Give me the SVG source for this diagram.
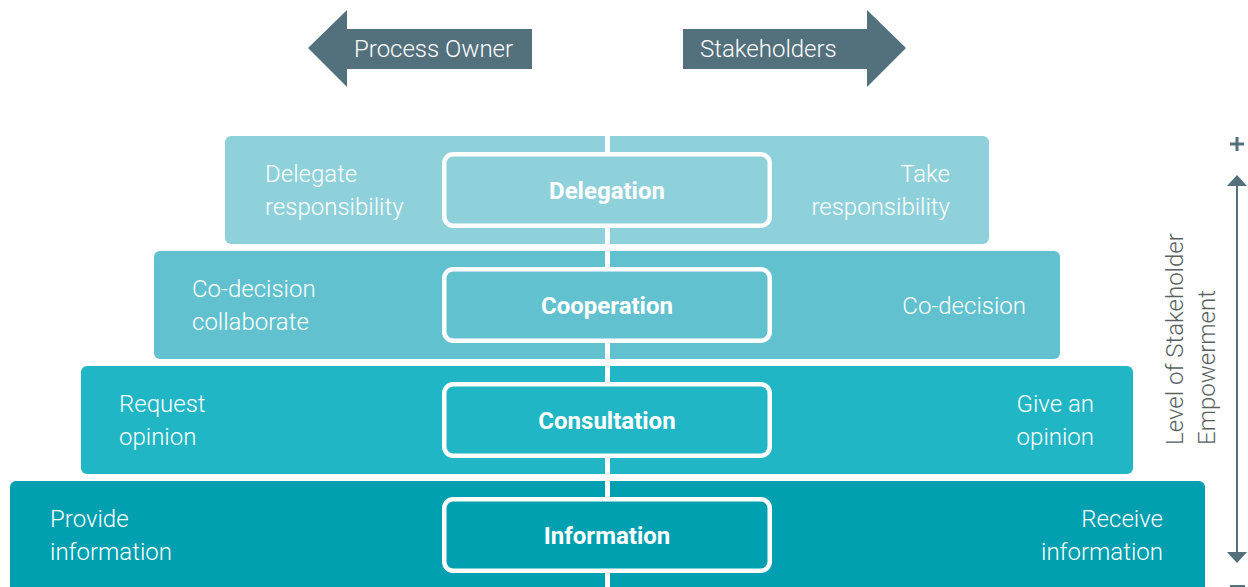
<svg xmlns="http://www.w3.org/2000/svg" width="1248" height="587" viewBox="0 0 1248 587">
<style>
.band-txt{font-family:Roboto,"Liberation Sans",sans-serif;font-weight:300;font-size:24px;fill:#ffffff}
.r{text-anchor:end}
.lbl{font-family:Roboto,"Liberation Sans",sans-serif;font-weight:700;font-size:24px;fill:#ffffff;text-anchor:middle}
.box{stroke:#ffffff;stroke-width:4.5}
.arr{fill:#53707D}
.arr-txt{font-family:Roboto,"Liberation Sans",sans-serif;font-weight:300;font-size:24px;fill:#ffffff}
.axis-txt{font-family:Roboto,"Liberation Sans",sans-serif;font-weight:300;font-size:24px;fill:#5a5f62}
</style>
<rect width="1248" height="587" fill="#ffffff"/>

<g id="arrow-process-owner">
<polygon class="arr" points="308,48 347,10 347,29 532,29 532,69 347,69 347,87"/>
<text class="arr-txt" x="354" y="57">Process Owner</text>
</g>
<g id="arrow-stakeholders">
<polygon class="arr" points="906,48 867,10 867,29 683,29 683,69 867,69 867,87"/>
<text class="arr-txt" x="700" y="57">Stakeholders</text>
</g>

<g id="band-delegation">
<rect x="225" y="136" width="764" height="108" rx="6" fill="#8FD1DA"/>
</g>
<g id="band-cooperation">
<rect x="154" y="251" width="906" height="108" rx="6" fill="#62C1CE"/>
</g>
<g id="band-consultation">
<rect x="81" y="366" width="1052" height="108" rx="6" fill="#21B6C5"/>
</g>
<g id="band-information">
<rect x="10" y="481" width="1195" height="120" rx="6" fill="#00A0B0"/>
</g>

<g id="connectors">
<rect x="605" y="136" width="5" height="451" fill="#ffffff"/>
<line x1="1237" y1="184" x2="1237" y2="553" stroke="#53707D" stroke-width="2"/>
<polygon class="arr" points="1237,175 1247,186 1227,186"/>
<polygon class="arr" points="1237,563 1247,552 1227,552"/>
</g>

<g id="node-delegation">
<rect class="box" x="444.25" y="154.25" width="325.5" height="71.5" rx="9" fill="#8FD1DA"/>
<text class="lbl" x="607" y="199">Delegation</text>
<text class="band-txt" x="265" y="182">Delegate</text>
<text class="band-txt" x="265" y="215">responsibility</text>
<text class="band-txt r" x="950" y="182">Take</text>
<text class="band-txt r" x="950" y="215">responsibility</text>
</g>
<g id="node-cooperation">
<rect class="box" x="444.25" y="269.25" width="325.5" height="71.5" rx="9" fill="#62C1CE"/>
<text class="lbl" x="607" y="314">Cooperation</text>
<text class="band-txt" x="192" y="297">Co-decision</text>
<text class="band-txt" x="192" y="330">collaborate</text>
<text class="band-txt r" x="1026" y="314">Co-decision</text>
</g>
<g id="node-consultation">
<rect class="box" x="444.25" y="384.25" width="325.5" height="71.5" rx="9" fill="#21B6C5"/>
<text class="lbl" x="607" y="429">Consultation</text>
<text class="band-txt" x="119" y="412">Request</text>
<text class="band-txt" x="119" y="445">opinion</text>
<text class="band-txt r" x="1094" y="412">Give an</text>
<text class="band-txt r" x="1094" y="445">opinion</text>
</g>
<g id="node-information">
<rect class="box" x="444.25" y="499.25" width="325.5" height="71.5" rx="9" fill="#00A0B0"/>
<text class="lbl" x="607" y="544">Information</text>
<text class="band-txt" x="50" y="527">Provide</text>
<text class="band-txt" x="50" y="560">information</text>
<text class="band-txt r" x="1163" y="527">Receive</text>
<text class="band-txt r" x="1163" y="560">information</text>
</g>

<g id="axis-labels">
<rect x="1230" y="142.5" width="14" height="3" fill="#53707D"/>
<rect x="1235.5" y="137" width="3" height="14" fill="#53707D"/>
<rect x="1230" y="585" width="15" height="3" fill="#53707D"/>
<text class="axis-txt" transform="translate(1183,445) rotate(-90)">Level of Stakeholder</text>
<text class="axis-txt" transform="translate(1215,445) rotate(-90)">Empowerment</text>
</g>
</svg>
